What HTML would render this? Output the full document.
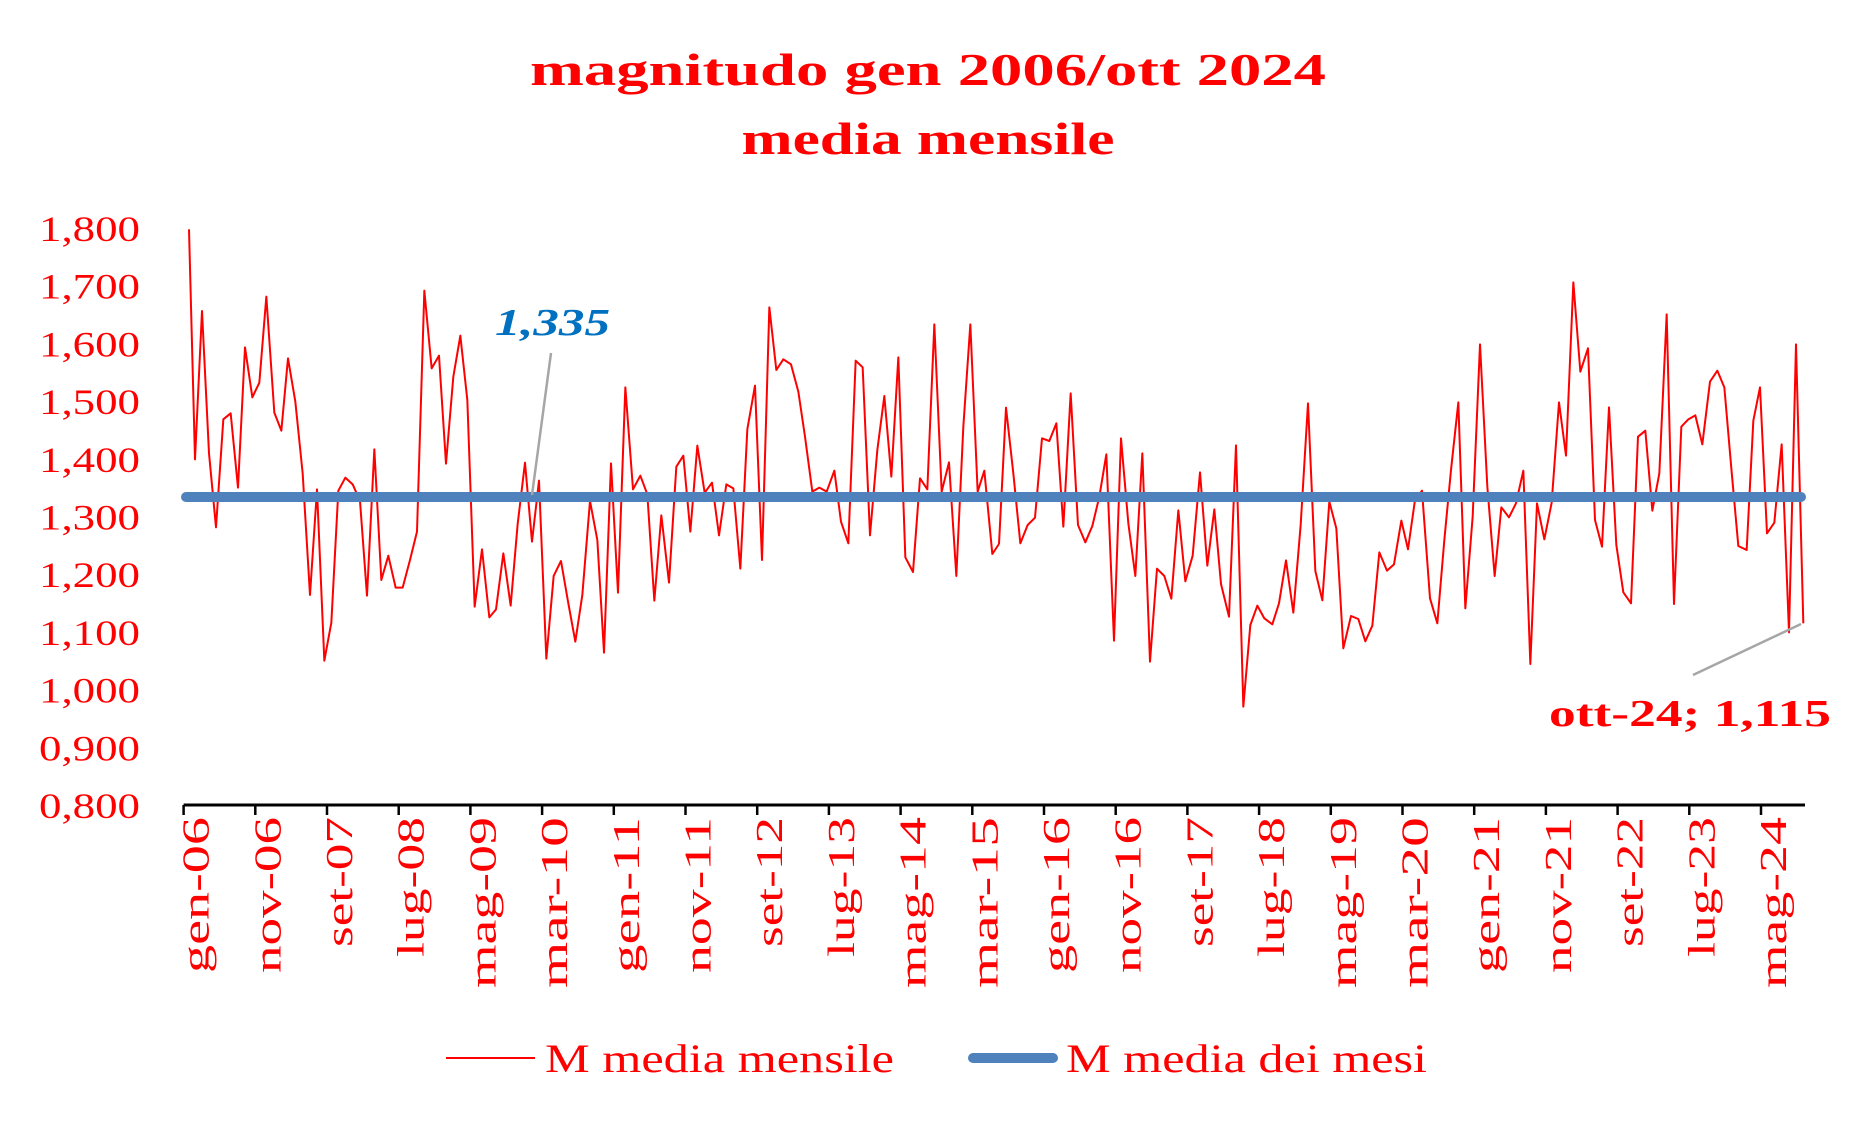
<!DOCTYPE html>
<html><head><meta charset="utf-8"><style>
html,body{margin:0;padding:0;background:#fff;}
svg{display:block;}
text{font-family:"Liberation Serif",serif;}
</style></head><body>
<svg width="1857" height="1130" viewBox="0 0 1857 1130" xmlns="http://www.w3.org/2000/svg">
<rect width="1857" height="1130" fill="#fff"/>
<text x="928" y="85" font-size="46" font-weight="bold" fill="#ff0000" text-anchor="middle" textLength="796" lengthAdjust="spacingAndGlyphs">magnitudo gen 2006/ott 2024</text>
<text x="928" y="154" font-size="46" font-weight="bold" fill="#ff0000" text-anchor="middle" textLength="373" lengthAdjust="spacingAndGlyphs">media mensile</text>
<g font-size="36" fill="#ff0000" text-anchor="end">
<text x="140" y="241" textLength="101" lengthAdjust="spacingAndGlyphs">1,800</text>
<text x="140" y="298.7" textLength="101" lengthAdjust="spacingAndGlyphs">1,700</text>
<text x="140" y="356.4" textLength="101" lengthAdjust="spacingAndGlyphs">1,600</text>
<text x="140" y="414.1" textLength="101" lengthAdjust="spacingAndGlyphs">1,500</text>
<text x="140" y="471.8" textLength="101" lengthAdjust="spacingAndGlyphs">1,400</text>
<text x="140" y="529.5" textLength="101" lengthAdjust="spacingAndGlyphs">1,300</text>
<text x="140" y="587.2" textLength="101" lengthAdjust="spacingAndGlyphs">1,200</text>
<text x="140" y="644.9" textLength="101" lengthAdjust="spacingAndGlyphs">1,100</text>
<text x="140" y="702.6" textLength="101" lengthAdjust="spacingAndGlyphs">1,000</text>
<text x="140" y="760.3" textLength="101" lengthAdjust="spacingAndGlyphs">0,900</text>
<text x="140" y="818" textLength="101" lengthAdjust="spacingAndGlyphs">0,800</text>
</g>
<g fill="none" stroke="#ff0000" stroke-width="2" stroke-linejoin="round">
<g transform="translate(180,220) scale(0.33333)"><polyline vector-effect="non-scaling-stroke" points="27,28 45,718 66,273 87,700 108,922 130,598 152,580 174,803 195,382 217,532 238,488 259,230 283,578 304,632 324,415 346,545 368,760 390,1125 411,808 433,1322 454,1208 475,812 496,773 518,793 540,843 561,1127 583,688 604,1080 625,1007 647,1103 668,1103 690,1020 711,935 733,212 755,445 777,407 798,731 820,470 841,347 862,540 884,1160 906,988 928,1192 948,1168 970,1000 992,1157 1013,912 1035,728 1056,965 1077,782 1099,1316 1121,1068 1143,1023 1165,1150 1186,1265 1207,1125 1230,843 1252,960"/></g>
<g transform="translate(590,220) scale(0.33333)"><polyline vector-effect="non-scaling-stroke" points="22,960 42,1298 63,730 84,1118 106,502 129,808 151,767 172,823 193,1142 214,886 237,1088 259,740 280,707 301,935 322,677 344,818 366,788 387,946 409,793 430,805 451,1046 472,628 495,497 516,1020 538,262 559,450 580,418 603,433 625,515 645,650 667,815 688,803 710,815 733,752 753,905 775,970 797,422 818,442 840,946 862,690 883,528 904,770 925,412 946,1012 969,1056 990,775 1012,808 1033,313 1055,815 1077,727 1099,1068 1120,620 1141,313 1163,815 1183,752 1207,1002 1227,972"/></g>
<g transform="translate(1000,220) scale(0.33333)"><polyline vector-effect="non-scaling-stroke" points="-3,972 18,563 40,760 61,970 83,915 105,893 126,655 148,663 169,610 190,920 212,520 234,915 256,967 277,918 298,830 319,703 342,1262 363,655 385,910 406,1068 427,700 450,1325 471,1046 493,1068 514,1136 535,871 556,1084 578,1007 600,757 622,1037 643,868 663,1092 687,1190 708,676 730,1460 751,1215 772,1157 793,1195 817,1213 837,1150 858,1021 880,1178 902,915 924,550 946,1053 967,1141 988,845 1009,925 1030,1285 1053,1188 1075,1197 1096,1264 1117,1217 1138,997 1161,1052 1182,1033 1204,902 1224,988 1245,840"/></g>
<g transform="translate(1400,220) scale(0.33333)"><polyline vector-effect="non-scaling-stroke" points="45,840 66,812 90,1135 112,1210 133,960 153,750 175,547 196,1165 218,890 240,373 262,800 284,1068 304,862 327,892 348,850 370,752 391,1332 411,850 433,958 455,848 477,547 498,707 520,187 541,455 564,385 585,900 606,980 627,562 649,975 670,1117 693,1150 714,650 736,632 757,872 778,760 800,283 822,1152 844,620 865,598 886,586 907,673 930,485 952,452 973,502 994,745 1015,978 1040,990 1060,602 1080,502 1101,940 1123,908 1145,673 1167,1237 1188,373 1210,1210"/></g>
</g>
<line x1="186" y1="497" x2="1801" y2="497" stroke="#4F81BD" stroke-width="10" stroke-linecap="round"/>
<line x1="551" y1="353" x2="532" y2="495" stroke="#A6A6A6" stroke-width="2.5"/>
<line x1="1693" y1="675" x2="1801" y2="624" stroke="#A6A6A6" stroke-width="2.5"/>
<text x="495" y="335" font-size="38" font-weight="bold" font-style="italic" fill="#0070C0" textLength="115" lengthAdjust="spacingAndGlyphs">1,335</text>
<text x="1549" y="726" font-size="38" font-weight="bold" fill="#ff0000" textLength="282" lengthAdjust="spacingAndGlyphs">ott-24; 1,115</text>
<line x1="183.6" y1="805" x2="1805" y2="805" stroke="#000" stroke-width="3"/>
<g stroke="#000" stroke-width="2.5">
<line x1="183.6" y1="805" x2="183.6" y2="815"/><line x1="255.3" y1="805" x2="255.3" y2="815"/><line x1="327" y1="805" x2="327" y2="815"/><line x1="398.7" y1="805" x2="398.7" y2="815"/><line x1="470.4" y1="805" x2="470.4" y2="815"/><line x1="542.1" y1="805" x2="542.1" y2="815"/><line x1="613.8" y1="805" x2="613.8" y2="815"/><line x1="685.5" y1="805" x2="685.5" y2="815"/><line x1="757.2" y1="805" x2="757.2" y2="815"/><line x1="828.9" y1="805" x2="828.9" y2="815"/><line x1="900.6" y1="805" x2="900.6" y2="815"/><line x1="972.3" y1="805" x2="972.3" y2="815"/><line x1="1044" y1="805" x2="1044" y2="815"/><line x1="1115.7" y1="805" x2="1115.7" y2="815"/><line x1="1187.4" y1="805" x2="1187.4" y2="815"/><line x1="1259.1" y1="805" x2="1259.1" y2="815"/><line x1="1330.8" y1="805" x2="1330.8" y2="815"/><line x1="1402.5" y1="805" x2="1402.5" y2="815"/><line x1="1474.2" y1="805" x2="1474.2" y2="815"/><line x1="1545.9" y1="805" x2="1545.9" y2="815"/><line x1="1617.6" y1="805" x2="1617.6" y2="815"/><line x1="1689.3" y1="805" x2="1689.3" y2="815"/><line x1="1761" y1="805" x2="1761" y2="815"/>
</g>
<g font-size="38" fill="#ff0000" text-anchor="end">
<text transform="translate(208.6,817) rotate(-90)" textLength="156" lengthAdjust="spacingAndGlyphs">gen-06</text>
<text transform="translate(280.3,817) rotate(-90)" textLength="156" lengthAdjust="spacingAndGlyphs">nov-06</text>
<text transform="translate(352,817) rotate(-90)" textLength="130" lengthAdjust="spacingAndGlyphs">set-07</text>
<text transform="translate(423.7,817) rotate(-90)" textLength="140" lengthAdjust="spacingAndGlyphs">lug-08</text>
<text transform="translate(495.4,817) rotate(-90)" textLength="171" lengthAdjust="spacingAndGlyphs">mag-09</text>
<text transform="translate(567.1,817) rotate(-90)" textLength="171" lengthAdjust="spacingAndGlyphs">mar-10</text>
<text transform="translate(638.8,817) rotate(-90)" textLength="156" lengthAdjust="spacingAndGlyphs">gen-11</text>
<text transform="translate(710.5,817) rotate(-90)" textLength="156" lengthAdjust="spacingAndGlyphs">nov-11</text>
<text transform="translate(782.2,817) rotate(-90)" textLength="130" lengthAdjust="spacingAndGlyphs">set-12</text>
<text transform="translate(853.9,817) rotate(-90)" textLength="140" lengthAdjust="spacingAndGlyphs">lug-13</text>
<text transform="translate(925.6,817) rotate(-90)" textLength="171" lengthAdjust="spacingAndGlyphs">mag-14</text>
<text transform="translate(997.3,817) rotate(-90)" textLength="171" lengthAdjust="spacingAndGlyphs">mar-15</text>
<text transform="translate(1069,817) rotate(-90)" textLength="156" lengthAdjust="spacingAndGlyphs">gen-16</text>
<text transform="translate(1140.7,817) rotate(-90)" textLength="156" lengthAdjust="spacingAndGlyphs">nov-16</text>
<text transform="translate(1212.4,817) rotate(-90)" textLength="130" lengthAdjust="spacingAndGlyphs">set-17</text>
<text transform="translate(1284.1,817) rotate(-90)" textLength="140" lengthAdjust="spacingAndGlyphs">lug-18</text>
<text transform="translate(1355.8,817) rotate(-90)" textLength="171" lengthAdjust="spacingAndGlyphs">mag-19</text>
<text transform="translate(1427.5,817) rotate(-90)" textLength="171" lengthAdjust="spacingAndGlyphs">mar-20</text>
<text transform="translate(1499.2,817) rotate(-90)" textLength="156" lengthAdjust="spacingAndGlyphs">gen-21</text>
<text transform="translate(1570.9,817) rotate(-90)" textLength="156" lengthAdjust="spacingAndGlyphs">nov-21</text>
<text transform="translate(1642.6,817) rotate(-90)" textLength="130" lengthAdjust="spacingAndGlyphs">set-22</text>
<text transform="translate(1714.3,817) rotate(-90)" textLength="140" lengthAdjust="spacingAndGlyphs">lug-23</text>
<text transform="translate(1786,817) rotate(-90)" textLength="171" lengthAdjust="spacingAndGlyphs">mag-24</text>
</g>
<line x1="446" y1="1058" x2="535" y2="1058" stroke="#ff0000" stroke-width="2"/>
<text x="545" y="1072" font-size="40" fill="#ff0000" textLength="349" lengthAdjust="spacingAndGlyphs">M media mensile</text>
<line x1="973" y1="1058" x2="1053" y2="1058" stroke="#4F81BD" stroke-width="10" stroke-linecap="round"/>
<text x="1066" y="1072" font-size="40" fill="#ff0000" textLength="361" lengthAdjust="spacingAndGlyphs">M media dei mesi</text>
</svg>
</body></html>
